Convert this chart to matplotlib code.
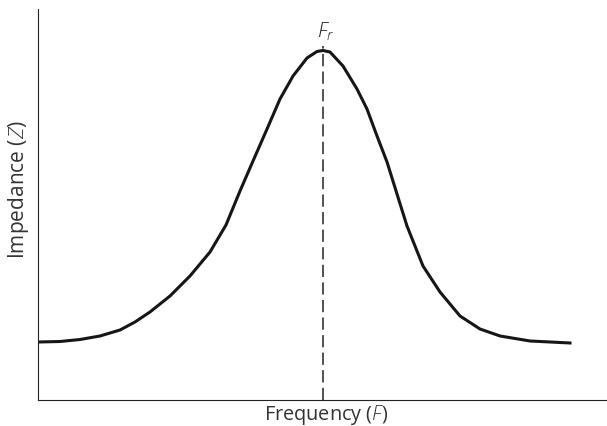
import matplotlib.pyplot as plt

plt.rcParams['font.family'] = 'Open Sans'
plt.rcParams['font.weight'] = 'light'
plt.rcParams['mathtext.fontset'] = 'custom'
plt.rcParams['mathtext.rm'] = 'Open Sans:light'
plt.rcParams['mathtext.it'] = 'Open Sans:italic'

# Krzywa rezonansowa (jednostki umowne)
freq = [0.0, 3.87, 7.38, 10.90, 14.41, 17.05, 19.68, 23.20, 26.71, 30.23, 33.04,
        35.50, 37.79, 40.25, 42.53, 44.82, 47.28, 49.03, 50.09, 51.32, 53.60, 56.06,
        57.82, 59.58, 61.34, 63.09, 64.85, 67.66, 70.65, 74.17, 77.68, 81.20, 86.47,
        93.50]
impedance = [14.83, 14.96, 15.47, 16.37, 17.90, 19.95, 22.51, 26.60, 31.71, 37.85,
             44.76, 53.45, 61.13, 69.31, 76.98, 82.86, 87.47, 89.13, 89.39, 89.00,
             85.42, 79.54, 74.42, 67.52, 60.87, 52.69, 44.50, 34.27, 27.62, 21.48,
             18.16, 16.37, 15.09, 14.58]
f_res = 50.1
z_dash_top = 90.5

fig = plt.figure(figsize=(6.07, 4.27), dpi=100)
ax = fig.add_axes([0.0626, 0.0609, 0.9374, 0.9157])
ax.plot(freq, impedance, color='#161616', lw=2.2, solid_joinstyle='round')
ax.plot([f_res, f_res], [0, z_dash_top], color='#222222', lw=1.1, ls=(0, (8, 3.5)))
ax.text(f_res + 0.5, z_dash_top + 1.0, '$F_r$', ha='center', va='bottom',
        fontsize=14.5, color='#222222')

ax.set_xlim(0, 100)
ax.set_ylim(0, 100)
ax.set_xticks([])
ax.set_yticks([])
ax.spines['top'].set_visible(False)
ax.spines['right'].set_visible(False)
ax.spines['left'].set_color('#222222')
ax.spines['bottom'].set_color('#222222')
ax.set_xlabel('Frequency ($F$)', fontsize=14.3, color='#333333')
ax.set_ylabel('Impedance ($Z$)', fontsize=15.0, color='#333333')
ax.xaxis.set_label_coords(0.506, -0.036)
ax.yaxis.set_label_coords(-0.035, 0.540)
ax.xaxis.label.set_va('center')
ax.yaxis.label.set_va('center')

fig.savefig('out.png')
